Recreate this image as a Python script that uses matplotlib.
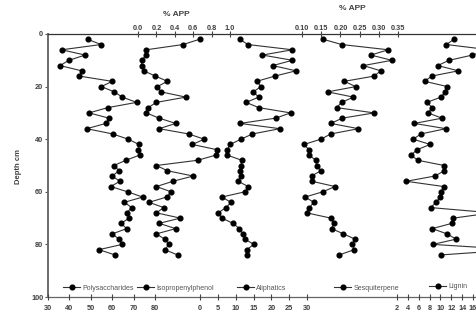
import matplotlib
matplotlib.use("Agg")
import matplotlib.pyplot as plt
from matplotlib.lines import Line2D

W, H = 476, 318

# sample depths (cm)
depth = [2, 4, 6, 8, 10, 12, 14, 16, 18, 20, 22, 24, 26, 28, 30, 32, 34, 36, 38, 40, 42,
         44, 46, 48, 50, 52, 54, 56, 58, 60, 62, 64, 66, 68, 70, 72, 74, 76, 78, 80, 82, 84]

polysaccharides = [48.5, 54.8, 36.4, 47.3, 39.8, 35.6, 45.7, 44.6, 60.0, 54.9, 61.0, 64.7,
                   71.4, 57.9, 49.2, 58.5, 57.1, 48.1, 60.2, 67.5, 72.5, 72.2, 73.0, 66.4,
                   60.8, 63.2, 60.0, 63.6, 59.3, 67.2, 74.2, 65.7, 69.1, 66.8, 68.0, 64.1,
                   66.8, 60.0, 63.2, 64.7, 53.8, 61.3]
isopropenylphenol = [0.67, 0.49, 0.09, 0.09, 0.04, 0.04, 0.06, 0.19, 0.32, 0.21, 0.25, 0.52,
                     0.20, 0.11, 0.09, 0.23, 0.41, 0.23, 0.55, 0.72, 0.59, 0.86, 0.85, 0.65,
                     0.20, 0.32, 0.60, 0.38, 0.20, 0.36, 0.31, 0.12, 0.28, 0.20, 0.46, 0.23,
                     0.41, 0.20, 0.29, 0.34, 0.29, 0.43]
aliphatics = [11.2, 13.4, 25.9, 17.5, 25.9, 20.4, 26.9, 21.0, 15.9, 17.1, 14.9, 16.5,
              12.9, 16.5, 25.4, 21.2, 11.2, 22.4, 14.7, 11.5, 8.4, 7.7, 7.5, 11.7,
              11.5, 11.2, 11.4, 10.7, 13.5, 12.6, 6.1, 8.7, 7.3, 5.1, 6.1, 9.3,
              11.0, 12.1, 12.6, 15.1, 13.1, 13.1]
sesquiterpene = [0.155, 0.203, 0.325, 0.279, 0.334, 0.260, 0.305, 0.288, 0.210, 0.240, 0.167,
                 0.234, 0.203, 0.190, 0.288, 0.205, 0.175, 0.247, 0.175, 0.149, 0.105, 0.118,
                 0.118, 0.136, 0.138, 0.149, 0.125, 0.126, 0.186, 0.154, 0.108, 0.131, 0.119,
                 0.112, 0.175, 0.183, 0.177, 0.208, 0.238, 0.231, 0.236, 0.197]
lignin = [12.5, 11.1, 19.0, 15.9, 11.6, 9.5, 13.3, 8.4, 7.1, 11.3, 10.9, 10.1,
          7.5, 8.5, 7.7, 10.3, 5.2, 11.0, 6.4, 5.0, 8.1, 5.7, 4.6, 5.8,
          10.7, 10.7, 9.0, 3.7, 10.6, 10.1, 10.0, 9.2, 8.2, 19.5, 12.4, 12.1,
          8.5, 11.2, 12.9, 8.6, 24.0, 10.1]

depth_ticks = [0, 20, 40, 60, 80, 100]
poly_ticks = [30, 40, 50, 60, 70, 80]
iso_ticks = [0.0, 0.2, 0.4, 0.6, 0.8, 1.0]
aliph_ticks = [0, 5, 10, 15, 20, 25, 30]
sesq_ticks = [0.10, 0.15, 0.20, 0.25, 0.30, 0.35]
lignin_ticks = [2, 4, 6, 8, 10, 12, 14, 16]

plt.rcParams['font.family'] = ['Liberation Sans', 'DejaVu Sans']

TEXT = '#404040'
LINE = '#333333'
TOP, BOTTOM = 34, 297


def rect(x0, x1):
    return [x0 / W, 1 - BOTTOM / H, (x1 - x0) / W, (BOTTOM - TOP) / H]


fig = plt.figure(figsize=(W / 100, H / 100), dpi=100)

# main depth axis
ax = fig.add_axes(rect(48, 560))
ax.set_ylim(100, 0)
ax.set_xticks([])
ax.set_yticks(depth_ticks)
ax.tick_params(axis='y', direction='out', length=2.5, width=0.8, color='#555555',
               labelsize=5.3, labelcolor=TEXT, pad=1)
for lab in ax.get_yticklabels():
    lab.set_fontweight('bold')
ax.spines['right'].set_visible(False)
ax.spines['left'].set_color('#6a6a6a')
ax.spines['left'].set_linewidth(1.4)
ax.spines['top'].set_color('#333333')
ax.spines['top'].set_linewidth(0.9)
ax.spines['bottom'].set_color('#666666')
ax.spines['bottom'].set_linewidth(0.9)
fig.text(18 / W, 1 - 166 / H, 'Depth cm', rotation=90, ha='center', va='center',
         fontsize=5.5, fontweight='bold', color=TEXT)


def series_axes(x0, x1, lim, ticks, side, fmt):
    a = fig.add_axes(rect(x0, x1))
    a.patch.set_visible(False)
    for s in a.spines.values():
        s.set_visible(False)
    a.set_xlim(lim)
    a.set_ylim(100, 0)
    a.set_yticks([])
    a.set_xticks(ticks)
    a.set_xticklabels([fmt.format(t) for t in ticks])
    a.xaxis.set_ticks_position(side)
    a.xaxis.set_label_position(side)
    a.tick_params(axis='x', direction='inout', length=4, width=0.8, color='#444444',
                  labelsize=5.3, labelcolor=TEXT, pad=3.6 if side == 'bottom' else -0.6)
    for lab in a.get_xticklabels():
        lab.set_fontweight('bold')
    return a


series = [
    ('Polysaccharides', polysaccharides, (48, 155), (30, 80), poly_ticks, 'bottom', '{:g}', (63, 288)),
    ('Isopropenylphenol', isopropenylphenol, (138, 230), (0, 1.0), iso_ticks, 'top', '{:.1f}', (137, 288)),
    ('Aliphatics', aliphatics, (200, 307), (0, 30), aliph_ticks, 'bottom', '{:g}', (237, 288)),
    ('Sesquiterpene', sesquiterpene, (302, 398), (0.10, 0.35), sesq_ticks, 'top', '{:.2f}', (334, 288)),
    ('Lignin', lignin, (397, 473), (2, 16), lignin_ticks, 'bottom', '{:g}', (429, 287)),
]

for name, vals, (x0, x1), lim, ticks, side, fmt, (lx, ly) in series:
    a = series_axes(x0, x1, lim, ticks, side, fmt)
    a.plot(vals, depth, color=LINE, lw=0.8, marker='o', ms=3.4, mfc='black',
           mec='black', clip_on=False)
    handle = Line2D([], [], color=LINE, lw=0.8, marker='o', ms=3.4, mfc='black', mec='black')
    fig.legend(handles=[handle], labels=[name], loc='center left',
               bbox_to_anchor=(lx / W, 1 - ly / H), frameon=False, fontsize=5,
               handlelength=2.5, handletextpad=0.3, borderpad=0, borderaxespad=0,
               numpoints=1, labelcolor='#555555')

fig.text(176 / W, 1 - 14 / H, '% APP', ha='center', va='center', fontsize=6,
         fontweight='bold', color=TEXT)
fig.text(352 / W, 1 - 9 / H, '% APP', ha='center', va='center', fontsize=6,
         fontweight='bold', color=TEXT)

fig.savefig('out.png', dpi=100)
